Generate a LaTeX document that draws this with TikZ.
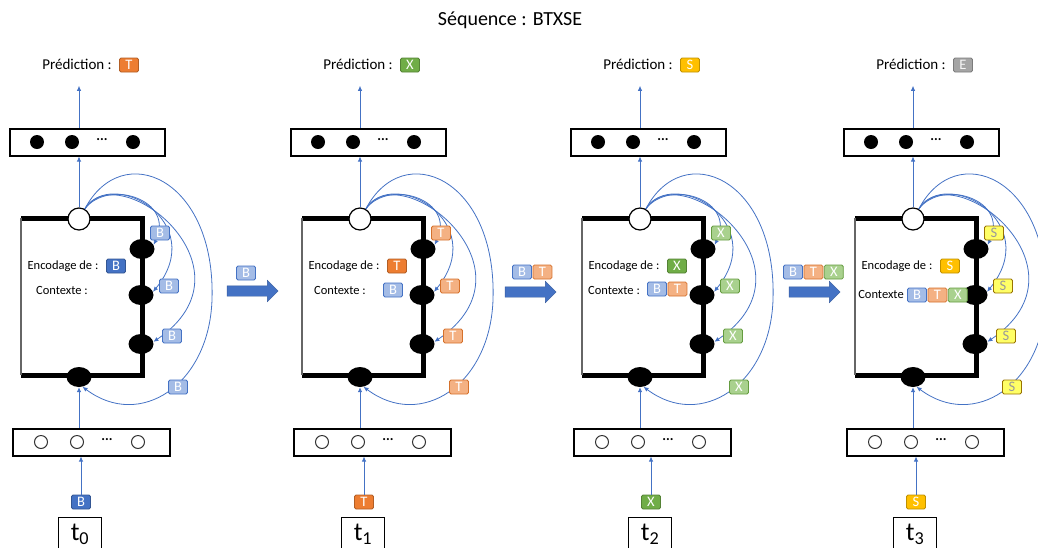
\documentclass[tikz,border=0pt]{standalone}
\usepackage{fontspec}
\setmainfont{Carlito}
\usetikzlibrary{arrows.meta,positioning,shapes.arrows,shapes.geometric}
\definecolor{bleu}{HTML}{4472C4}
\definecolor{bleuclair}{HTML}{A4BCE6}
\definecolor{orangef}{HTML}{ED7D31}
\definecolor{orangeclair}{HTML}{F4B183}
\definecolor{vertf}{HTML}{70AD47}
\definecolor{vertclair}{HTML}{A9D18E}
\definecolor{jaunef}{HTML}{FFC000}
\definecolor{jauneclair}{HTML}{FFFF66}
\definecolor{grisf}{HTML}{A5A5A5}

\begin{document}
\begin{tikzpicture}[x=1pt, y=-1pt, >={Latex[length=5pt,width=4.5pt]},
	every node/.style={font=\fontsize{12.5}{14}\selectfont},
	tok/.style={rectangle, rounded corners=1.5pt, minimum width=19pt, minimum height=14pt, inner sep=0pt, line width=0.8pt, text=white, font=\fontsize{14.5}{14}\selectfont},
	tokB/.style={tok, fill=bleu, draw=bleu!75!black},
	tokBl/.style={tok, fill=bleuclair, draw=bleu},
	tokT/.style={tok, fill=orangef, draw=orangef!75!black},
	tokTl/.style={tok, fill=orangeclair, draw=orangef!90!black},
	tokX/.style={tok, fill=vertf, draw=vertf!75!black},
	tokXl/.style={tok, fill=vertclair, draw=vertf!90!black},
	tokS/.style={tok, fill=jaunef, draw=jaunef!75!black},
	tokSl/.style={tok, fill=jauneclair, draw=jaunef!60!black, text=black!40},
	tokE/.style={tok, fill=grisf, draw=grisf!75!black, text=white!90!grisf},
	layer/.style={draw, line width=2pt, minimum height=27pt, inner sep=0pt},
	plein/.style={circle, fill=black, minimum size=14pt, inner sep=0pt},
	vide/.style={circle, draw=black!80, line width=1pt, minimum size=13pt, inner sep=0pt},
	haut/.style={circle, draw=black, fill=white, line width=1.2pt, minimum size=22pt, inner sep=0pt},
	noeud/.style={ellipse, fill=black, minimum width=25pt, minimum height=20pt, inner sep=0pt},
	cadre/.style={line width=5pt, black},
	lien/.style={->, bleu, line width=0.8pt},
	fleche/.style={single arrow, fill=bleu, draw=bleu!80!black, minimum height=51pt, inner xsep=0pt, inner ysep=5pt, single arrow head extend=5.5pt, single arrow head indent=0pt},
	tbox/.style={draw, line width=1pt, minimum width=43pt, minimum height=34pt, inner sep=0pt, font=\fontsize{26}{28}\selectfont}]
	\useasboundingbox (0,0) rectangle (1038,547);
	\node[font=\fontsize{20}{22}\selectfont] (titre) at (510,20) {Séquence : BTXSE};
	\foreach \p/\dx/\bx/\cur/\nxt in {0/0/0/B/T,1/281/2/T/X,2/561/9/X/S,3/834/1/S/E}{
	\begin{scope}[xshift=\dx]
		% sortie
		\node[font=\fontsize{15}{16}\selectfont] (p\p) at (77,64) {Prédiction :};
		\node[tok\nxt] (pt\p) at (129,65) {\nxt};
		\node[layer, minimum width=155pt] (out\p) at (87,142) {};
		\node[plein] (o\p-1) at (37,142) {};
		\node[plein] (o\p-2) at (72,142) {};
		\node[plein] (o\p-3) at (133,142) {};
		\node[font=\fontsize{14}{14}\selectfont\bfseries] (o\p-d) at (102,140) {...};
		% cellule
		\draw[cadre] (21,218) -- (142,218) -- (142,375) -- (21,375);
		\draw[black!60, line width=1.5pt] (21,218) -- (21,375);
		\node[haut] (h\p) at (79,219) {};
		\node[noeud] (n\p-1) at (142,249) {};
		\node[noeud] (n\p-2) at (141,295) {};
		\node[noeud] (n\p-3) at (141,344) {};
		\node[noeud] (b\p) at (79,377) {};
		\draw[lien] (h\p.60) .. controls (108,178) and (176,200) .. (n\p-1.20);
		\draw[lien] (h\p.60) .. controls (112,166) and (210,222) .. (n\p-2.15);
		\draw[lien] (h\p.60) .. controls (118,155) and (262,268) .. (n\p-3.10);
		\draw[lien] (h\p.60) .. controls (122,138) and (216,178) .. (212,300) .. controls (209,385) and (140,430) .. (b\p.-70);
		\node[tok\cur l] (l\p-1) at (160,233) {\cur};
		\node[tok\cur l] (l\p-2) at (169,286) {\cur};
		\node[tok\cur l] (l\p-3) at (172,336) {\cur};
		\node[tok\cur l] (l\p-4) at (178,387) {\cur};
		\node (enc\p) at (63,266) {Encodage de :};
		\node[tok\cur] (e\p) at (116,266) {\cur};
		% entree
		\node[layer, minimum width=157pt] (in\p) at (91,442) {};
		\node[vide] (i\p-1) at (41,442) {};
		\node[vide] (i\p-2) at (77,442) {};
		\node[vide] (i\p-3) at (138,442) {};
		\node[font=\fontsize{14}{14}\selectfont\bfseries] (i\p-d) at (107,440) {...};
		\node[tok\cur] (x\p) at (81+\bx,502) {\cur};
		\node[tbox, anchor=north] (t\p) at (80+\bx,517) {t\textsubscript{\p}};
		\draw[lien] (x\p.north) -- (x\p.north |- in\p.south);
		\draw[lien] (in\p.north -| b\p.south) -- (b\p.south);
		\draw[lien] (h\p.north) -- (h\p.north |- out\p.south);
		\draw[lien, shorten >=13pt] (out\p.north -| h\p) -- (h\p |- p\p.south);
	\end{scope}}
	% contextes
	\node (c0) at (62,290) {Contexte :};
	\node (c1) at (340,290) {Contexte :};
	\node[tokBl] (c1-1) at (393,290) {B};
	\node (c2) at (614,290) {Contexte :};
	\node[tokBl] (c2-1) at (657,289) {B};
	\node[tokTl, right=0.6pt of c2-1] (c2-2) {T};
	\node (c3) at (881,294) {Contexte};
	\node[tokBl] (c3-1) at (917,295) {B};
	\node[tokTl, right=0.6pt of c3-1] (c3-2) {T};
	\node[tokXl, right=0.6pt of c3-2] (c3-3) {X};
	% passage d'un pas au suivant
	\node[fleche] (f1) at (250,291) {};
	\node[tokBl] (f1-1) at (246,273) {B};
	\node[fleche] (f2) at (528,292) {};
	\node[tokBl] (f2-1) at (522,272) {B};
	\node[tokTl, right=0.6pt of f2-1] (f2-2) {T};
	\node[fleche] (f3) at (812,292) {};
	\node[tokBl] (f3-1) at (793,272) {B};
	\node[tokTl, right=0.6pt of f3-1] (f3-2) {T};
	\node[tokXl, right=0.6pt of f3-2] (f3-3) {X};
\end{tikzpicture}
\end{document}
